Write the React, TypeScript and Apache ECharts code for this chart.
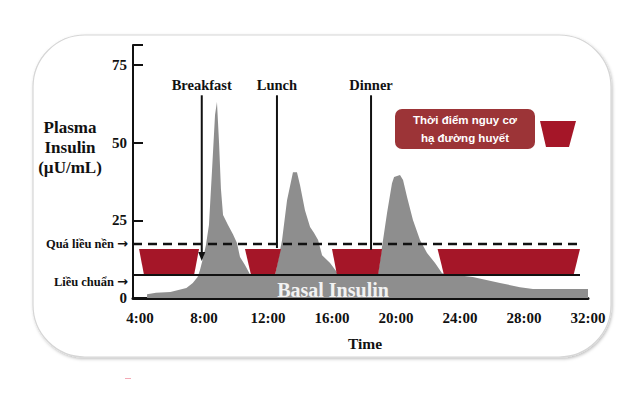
import React, { useEffect, useRef } from "react";
import * as echarts from "echarts";

// ---- data ----
const xTickHours = [4, 8, 12, 16, 20, 24, 28, 32];
const yTicks = [0, 25, 50, 75];

// total plasma insulin (time in hours, µU/mL)
const insulinCurve: [number, number][] = [
  [4.44, 1.2], [5.0, 1.7], [5.9, 1.9], [6.9, 3.2], [7.3, 4.8], [7.6, 6.8],
  [7.75, 9.0], [7.94, 12.9], [8.12, 17.0], [8.31, 23.5], [8.5, 41.0], [8.69, 59.0],
  [8.81, 63.1], [8.94, 50.0], [9.06, 35.0], [9.19, 26.7], [9.5, 23.5], [9.81, 20.5],
  [10.06, 17.7], [10.25, 13.2], [10.56, 10.6], [10.88, 7.6], [11.5, 7.4], [12.44, 7.4],
  [12.88, 18.7], [13.19, 31.5], [13.56, 40.5], [13.81, 40.5], [14.0, 36.4], [14.31, 28.3],
  [14.63, 22.9], [14.88, 20.9], [15.13, 18.7], [15.38, 13.8], [15.88, 11.3], [16.3, 8.4],
  [17.0, 7.4], [18.5, 7.4], [18.88, 8.0], [19.19, 18.7], [19.44, 27.4], [19.75, 37.0],
  [19.88, 39.0], [20.25, 39.6], [20.44, 38.0], [20.69, 32.5], [21.06, 25.1], [21.5, 18.7],
  [21.94, 14.5], [22.44, 11.3], [22.88, 8.0], [24.8, 6.8], [26.5, 4.8], [27.75, 3.5],
  [28.56, 2.9], [32.0, 2.9],
];

// hypoglycaemia risk windows: [topStart, topEnd, bottomStart, bottomEnd]
const riskWindows: [number, number, number, number][] = [
  [3.94, 7.69, 4.25, 7.38],
  [10.56, 12.81, 10.94, 12.44],
  [16.0, 19.13, 16.31, 18.88],
  [22.6, 31.5, 23.0, 31.1],
];
const riskTop = 15.8;
const overdoseLevel = 17.4; // "Quá liều nền"
const standardLevel = 7.4; // "Liều chuẩn"
const levelSpan = [3.5625, 31.5];

const meals = ["Breakfast", "Lunch", "Dinner"];
const mealTimes = [7.86, 12.56, 18.44];
const mealArrowEnd = [11.9, 16.1, 15.5];
const mealArrowTop = 65.3;
const mealLabelLevel = 68.6;

const SERIF = "Liberation Serif";

export default function App() {
  const ref = useRef<HTMLDivElement>(null);

  useEffect(() => {
    if (!ref.current) return;
    const chart = echarts.init(ref.current, undefined, { renderer: "svg" });

    const arrowRich = {
      arr: { font: `bold 13px "DejaVu Sans"`, fill: "#111", padding: [0, 0, 1, 0] },
    };

    const option: any = {
      animation: false,
      backgroundColor: "#ffffff",
      grid: { left: 133, right: 52, top: 45, bottom: 97 },
      xAxis: {
        type: "value",
        min: 3.5625,
        max: 32,
        splitLine: { show: false },
        axisTick: { show: false },
        axisLine: { lineStyle: { color: "#111", width: 3 } },
        axisLabel: {
          customValues: xTickHours,
          formatter: (v: number) => `${v}:00`,
          color: "#111",
          fontFamily: SERIF,
          fontWeight: "bold",
          fontSize: 15,
          margin: 12,
        },
      },
      yAxis: {
        type: "value",
        min: 0,
        max: 81.5,
        interval: 25,
        splitLine: { show: false },
        axisLine: { show: true, lineStyle: { color: "#111", width: 2 } },
        axisTick: { show: true, inside: true, length: 10, lineStyle: { color: "#111", width: 2 } },
        axisLabel: {
          color: "#111",
          fontFamily: SERIF,
          fontWeight: "bold",
          fontSize: 15,
          margin: 6,
          formatter: (v: number) => (yTicks.includes(v) ? String(v) : ""),
        },
      },
      series: [
        {
          type: "line",
          data: insulinCurve,
          symbol: "none",
          lineStyle: { width: 0 },
          areaStyle: { color: "#8e8e8e", opacity: 1 },
          z: 1,
          silent: true,
        },
        {
          type: "custom",
          z: 3,
          data: riskWindows.map((w) => [...w, riskTop, standardLevel]),
          encode: { x: [0, 1, 2, 3], y: [4, 5] },
          renderItem: (params: any, api: any) => {
            const a = api.coord([api.value(0), api.value(4)]);
            const b = api.coord([api.value(1), api.value(4)]);
            const c = api.coord([api.value(3), api.value(5)]);
            const d = api.coord([api.value(2), api.value(5)]);
            return {
              type: "polygon",
              shape: { points: [a, b, c, d] },
              style: { fill: "#a51628" },
            };
          },
        },
        {
          type: "line",
          z: 4,
          symbol: "none",
          data: [[levelSpan[0], overdoseLevel], [levelSpan[1], overdoseLevel]],
          lineStyle: { color: "#111", width: 2.5, type: [9, 6] },
        },
        {
          type: "line",
          z: 4,
          symbol: "none",
          data: [[levelSpan[0], standardLevel], [levelSpan[1], standardLevel]],
          lineStyle: { color: "#111", width: 2 },
        },
        {
          type: "custom",
          z: 5,
          data: mealTimes.map((t, i) => [t, mealArrowTop, mealArrowEnd[i], mealLabelLevel, i]),
          encode: { x: 0, y: [1, 2, 3] },
          renderItem: (params: any, api: any) => {
            const top = api.coord([api.value(0), api.value(1)]);
            const bot = api.coord([api.value(0), api.value(2)]);
            const lab = api.coord([api.value(0), api.value(3)]);
            const idx = api.value(4);
            const children: any[] = [
              {
                type: "text",
                x: lab[0],
                y: lab[1],
                style: {
                  text: meals[idx],
                  fill: "#111",
                  font: `bold 14.5px "${SERIF}"`,
                  align: "center",
                  verticalAlign: "middle",
                },
              },
              {
                type: "line",
                shape: { x1: top[0], y1: top[1], x2: bot[0], y2: idx === 0 ? bot[1] - 6 : bot[1] },
                style: { stroke: "#111", lineWidth: 2 },
              },
            ];
            if (idx === 0) {
              children.push({
                type: "polygon",
                shape: {
                  points: [
                    [bot[0] - 3.5, bot[1] - 9],
                    [bot[0] + 3.5, bot[1] - 9],
                    [bot[0], bot[1]],
                  ],
                },
                style: { fill: "#111" },
              });
            }
            return { type: "group", children };
          },
        },
      ],
      graphic: [
        {
          type: "rect",
          z: -10,
          silent: true,
          shape: { x: 33, y: 35, width: 578, height: 322, r: 52 },
          style: {
            fill: "#fff",
            stroke: "#d6d6d6",
            lineWidth: 1.2,
            shadowColor: "rgba(0,0,0,0.25)",
            shadowBlur: 3,
            shadowOffsetX: 1,
            shadowOffsetY: 1.5,
          },
        },
        {
          type: "text",
          z: 10,
          x: 70,
          y: 147,
          style: {
            text: "Plasma\nInsulin\n(µU/mL)",
            fill: "#111",
            font: `bold 17px "${SERIF}"`,
            align: "center",
            verticalAlign: "middle",
            lineHeight: 20,
          },
        },
        {
          type: "text",
          z: 10,
          x: 128,
          y: 244,
          style: {
            text: "Quá liều nền {arr|→}",
            fill: "#111",
            font: `bold 12.5px "${SERIF}"`,
            align: "right",
            verticalAlign: "middle",
            rich: arrowRich,
          },
        },
        {
          type: "text",
          z: 10,
          x: 128,
          y: 282,
          style: {
            text: "Liều chuẩn {arr|→}",
            fill: "#111",
            font: `bold 12.5px "${SERIF}"`,
            align: "right",
            verticalAlign: "middle",
            rich: arrowRich,
          },
        },
        {
          type: "text",
          z: 10,
          x: 333,
          y: 290,
          style: {
            text: "Basal Insulin",
            fill: "#f2f2f2",
            font: `bold 20px "${SERIF}"`,
            align: "center",
            verticalAlign: "middle",
          },
        },
        {
          type: "text",
          z: 10,
          x: 365,
          y: 343,
          style: {
            text: "Time",
            fill: "#111",
            font: `bold 15.5px "${SERIF}"`,
            align: "center",
            verticalAlign: "middle",
          },
        },
        {
          type: "rect",
          z: 10,
          shape: { x: 395, y: 109, width: 140, height: 40, r: 7 },
          style: { fill: "#9c3437" },
        },
        {
          type: "text",
          z: 11,
          x: 465,
          y: 129,
          style: {
            text: "Thời điểm nguy cơ\nhạ đường huyết",
            fill: "#ffffff",
            font: `bold 11.5px "Liberation Sans"`,
            align: "center",
            verticalAlign: "middle",
            lineHeight: 18,
          },
        },
        {
          type: "polygon",
          z: 10,
          shape: { points: [[540, 121], [576, 121], [569, 147], [546, 147]] },
          style: { fill: "#a51628" },
        },
        {
          type: "rect",
          z: 10,
          shape: { x: 125, y: 378, width: 6, height: 1 },
          style: { fill: "#f3a9b5" },
        },
      ],
    };

    chart.setOption(option);
    return () => chart.dispose();
  }, []);

  return (
    <div
      ref={ref}
      style={{ position: "fixed", left: 0, top: 0, width: 640, height: 395 }}
    />
  );
}
